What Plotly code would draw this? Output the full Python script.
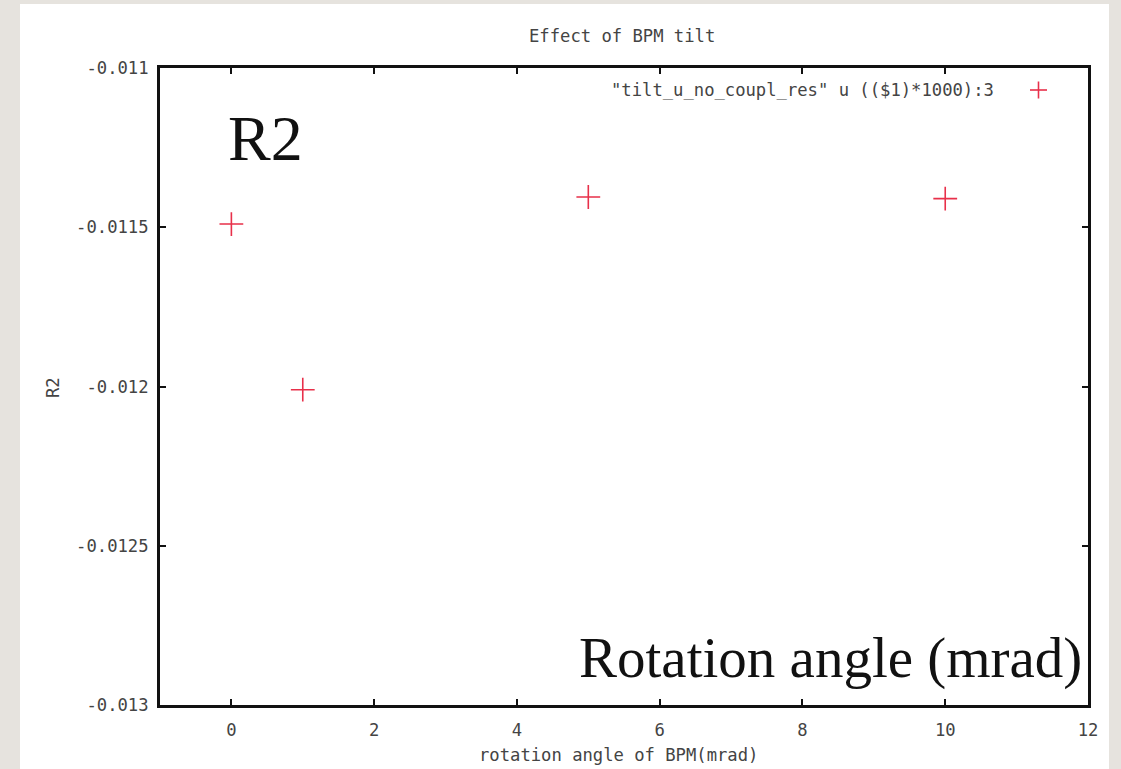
import plotly.graph_objects as go

# BPM rotation angle (mrad) and resulting R2 term
angle_mrad = [0, 1, 5, 10]
r2_values = [-0.01149, -0.01201, -0.011405, -0.01141]

x_ticks = [0, 2, 4, 6, 8, 10, 12]
y_ticks = [-0.013, -0.0125, -0.012, -0.0115, -0.011]
y_tick_text = ["-0.013", "-0.0125", "-0.012", "-0.0115", "-0.011"]

W, H = 1121, 769
L, R, T, B = 160, 33, 68, 64
PW, PH = W - L - R, H - T - B

def px(x):
    return (x - L) / PW

def py(y):
    return (H - B - y) / PH

mono = "DejaVu Sans Mono"
serif = "Liberation Serif"
red = "#e8304a"
grey = "#444444"
small = 17.2

fig = go.Figure()
fig.add_trace(go.Scatter(
    x=angle_mrad, y=r2_values, mode="markers",
    marker=dict(symbol="cross-thin", size=17, line=dict(color=red, width=1.6)),
    showlegend=False, hoverinfo="skip",
))

axis_common = dict(
    showline=True, linecolor="#111111", linewidth=3, mirror="ticks",
    ticks="inside", ticklen=6, tickwidth=2, tickcolor="#111111",
    showgrid=False, zeroline=False,
    tickfont=dict(family=mono, size=small, color=grey),
)

fig.update_xaxes(range=[-1, 12], tickvals=x_ticks, ticklabelstandoff=7, **axis_common)
fig.update_yaxes(range=[-0.013, -0.011], tickvals=y_ticks, ticktext=y_tick_text,
                 ticklabelstandoff=5, **axis_common)

shapes = [
    # white page behind the plot
    dict(type="rect", xref="paper", yref="paper", layer="below",
         x0=px(20), x1=px(1109), y0=py(769), y1=py(4),
         fillcolor="white", line=dict(width=0)),
    # legend sample cross
    dict(type="line", xref="paper", yref="paper",
         x0=px(1030), x1=px(1047), y0=py(90), y1=py(90),
         line=dict(color=red, width=1.6)),
    dict(type="line", xref="paper", yref="paper",
         x0=px(1038.5), x1=px(1038.5), y0=py(81.5), y1=py(98.5),
         line=dict(color=red, width=1.6)),
]

def note(text, x, y, size, family, color, xanchor="center", angle=0):
    return dict(text=text, x=px(x), y=py(y), xref="paper", yref="paper",
                xanchor=xanchor, yanchor="middle", textangle=angle,
                showarrow=False, font=dict(family=family, size=size, color=color))

annotations = [
    note("Effect of BPM tilt", 622, 36, small, mono, grey),
    note("rotation angle of BPM(mrad)", 618, 755, small, mono, grey),
    note("R2", 53, 388, small, mono, grey, angle=-90),
    note("\"tilt_u_no_coupl_res\" u (($1)*1000):3", 996, 90, small, mono, grey, xanchor="right"),
    note("R2", 265, 138, 64, serif, "#111111"),
    note("Rotation angle (mrad)", 1084, 658, 57, serif, "#111111", xanchor="right"),
]

fig.update_layout(
    width=W, height=H,
    margin=dict(l=L, r=R, t=T, b=B),
    paper_bgcolor="#e6e3de", plot_bgcolor="white",
    shapes=shapes, annotations=annotations,
)

fig.write_html("out.html")
